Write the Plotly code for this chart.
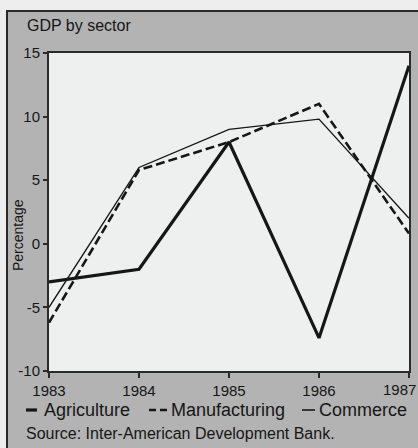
import plotly.graph_objects as go

years = [1983, 1984, 1985, 1986, 1987]
agriculture = [-3.0, -2.0, 8.0, -7.4, 14.0]
manufacturing = [-6.2, 5.8, 8.0, 11.0, 0.8]
commerce = [-5.0, 6.0, 9.0, 9.8, 2.0]
year_labels = ["1983", "1984", "1985", "1986", "1987"]
y_ticks = [-10, -5, 0, 5, 10, 15]
y_labels = ["-10", "-5", "0", "5", "10", "15"]

W, H = 418, 448
L, R, T, B = 49, 9, 53, 77
PW, PH = W - L - R, H - T - B

def xp(px):
    return (px - L) / PW

def yp(py):
    return (H - B - py) / PH

FONT = "Liberation Sans, Arial, Helvetica, sans-serif"
INK = "#161616"

fig = go.Figure()
fig.add_trace(go.Scatter(x=years, y=commerce, mode="lines", name="Commerce",
                         line=dict(color=INK, width=1.4), showlegend=False))
fig.add_trace(go.Scatter(x=years, y=manufacturing, mode="lines", name="Manufacturing",
                         line=dict(color=INK, width=2.6, dash="9px,4px"), showlegend=False))
fig.add_trace(go.Scatter(x=years, y=agriculture, mode="lines", name="Agriculture",
                         line=dict(color=INK, width=3.2), showlegend=False))

shapes = [
    # grey panel with dark frame
    dict(type="rect", xref="paper", yref="paper", layer="below",
         x0=xp(7), x1=xp(440), y0=yp(470), y1=yp(11),
         fillcolor="#b3b3b3", line=dict(color="#2a2a2a", width=2)),
    # light plotting area
    dict(type="rect", xref="paper", yref="paper", layer="below",
         x0=0, x1=1, y0=0, y1=1, fillcolor="#eef0ef", line=dict(width=0)),
    # legend keys
    dict(type="line", xref="paper", yref="paper", x0=xp(26), x1=xp(37), y0=yp(410), y1=yp(410),
         line=dict(color=INK, width=3.2)),
    dict(type="line", xref="paper", yref="paper", x0=xp(149), x1=xp(167), y0=yp(410), y1=yp(410),
         line=dict(color=INK, width=2.6, dash="7px,4px")),
    dict(type="line", xref="paper", yref="paper", x0=xp(302), x1=xp(315), y0=yp(410), y1=yp(410),
         line=dict(color=INK, width=1.6)),
]

annotations = [
    dict(text="GDP by sector", xref="paper", yref="paper", x=xp(25), y=yp(25),
         xanchor="left", yanchor="middle", showarrow=False, font=dict(size=16, color=INK, family=FONT)),
    dict(text="Percentage", xref="paper", yref="paper", x=xp(18), y=yp(235),
         xanchor="center", yanchor="middle", textangle=-90, showarrow=False,
         font=dict(size=14, color=INK, family=FONT)),
    # last year label, kept inside the window edge
    dict(text=year_labels[-1], xref="paper", yref="paper", x=xp(418), y=yp(389),
         xanchor="right", yanchor="middle", showarrow=False,
         font=dict(size=15, color=INK, family=FONT)),
    dict(text="Agriculture", xref="paper", yref="paper", x=xp(42), y=yp(410),
         xanchor="left", yanchor="middle", showarrow=False, font=dict(size=18, color=INK, family=FONT)),
    dict(text="Manufacturing", xref="paper", yref="paper", x=xp(169), y=yp(410),
         xanchor="left", yanchor="middle", showarrow=False, font=dict(size=18, color=INK, family=FONT)),
    dict(text="Commerce", xref="paper", yref="paper", x=xp(317), y=yp(410),
         xanchor="left", yanchor="middle", showarrow=False, font=dict(size=18, color=INK, family=FONT)),
    dict(text="Source: Inter-American Development Bank.", xref="paper", yref="paper",
         x=xp(24), y=yp(433), xanchor="left", yanchor="middle", showarrow=False,
         font=dict(size=16, color=INK, family=FONT)),
]

fig.update_layout(
    width=W, height=H,
    margin=dict(l=L, r=R, t=T, b=B, pad=0, autoexpand=False),
    paper_bgcolor="#eeeeee",
    plot_bgcolor="#eef0ef",
    font=dict(family=FONT, color=INK, size=15),
    shapes=shapes,
    annotations=annotations,
    showlegend=False,
)
fig.update_xaxes(range=[1983, 1987], tickvals=years, ticktext=year_labels[:-1] + [""],
                 showgrid=False, zeroline=False, showline=True, mirror=True,
                 linecolor="#2a2a2a", linewidth=2, ticks="outside", ticklen=5,
                 tickcolor="#2a2a2a", tickwidth=1.5, tickfont=dict(size=15, color=INK),
                 automargin=False, fixedrange=True)
fig.update_yaxes(range=[-10, 15], tickvals=y_ticks, ticktext=y_labels,
                 showgrid=False, zeroline=False, showline=True, mirror=True,
                 linecolor="#2a2a2a", linewidth=2, ticks="outside", ticklen=4,
                 tickcolor="#2a2a2a", tickwidth=1.5, tickfont=dict(size=15, color=INK),
                 automargin=False, fixedrange=True)

fig.write_html("out.html", config={"displayModeBar": False},
               post_script="document.body.style.margin='0';document.body.style.background='#eeeeee';")
